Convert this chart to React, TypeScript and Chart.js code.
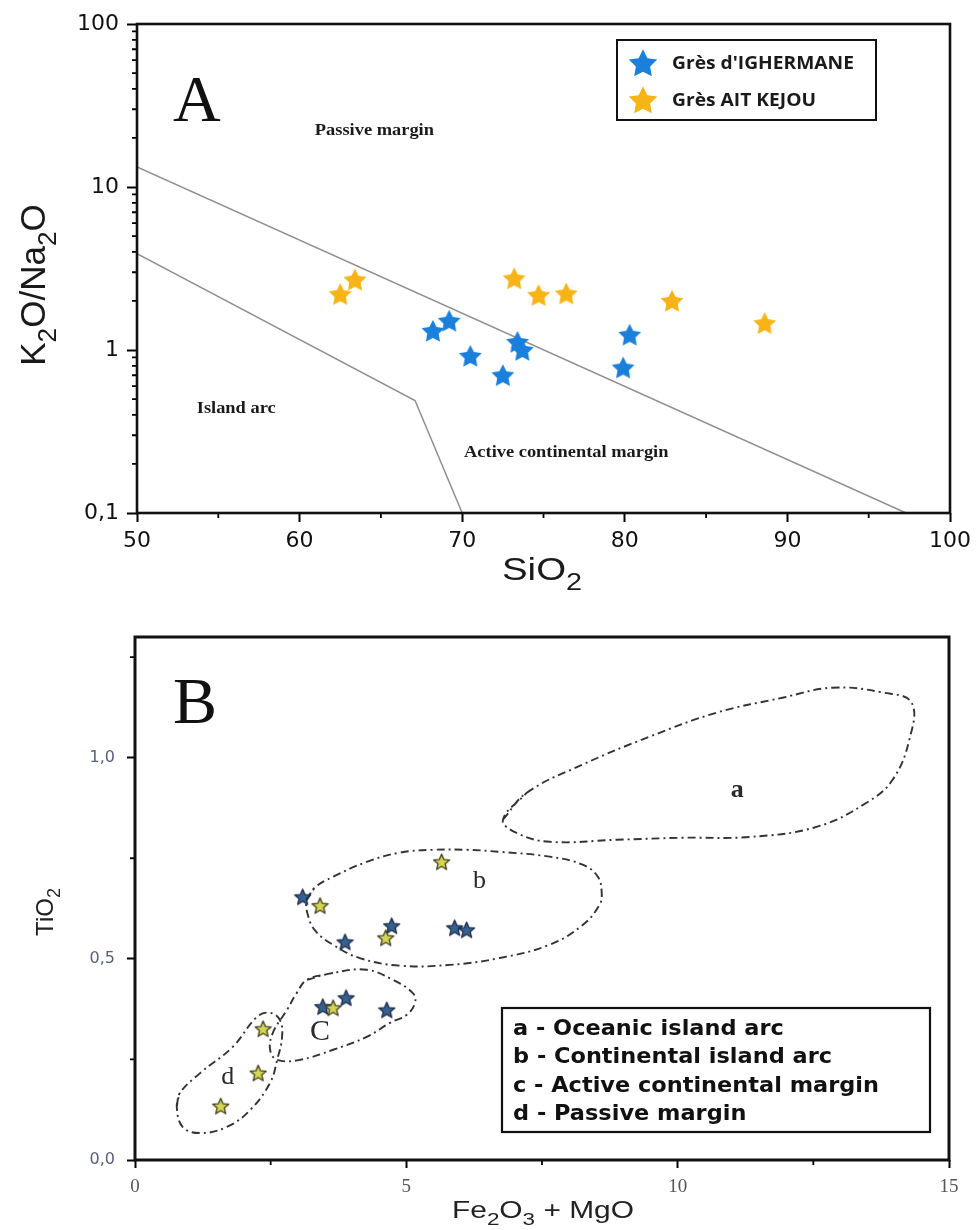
import React, { useEffect, useRef } from 'react';
import { Chart, registerables } from 'chart.js';

Chart.register(...registerables);

// ================= Panel A : K2O/Na2O vs SiO2 =================
const seriesLabels = ["Grès d'IGHERMANE", 'Grès AIT KEJOU'];

const sio2Ighermane = [68.2, 69.2, 70.5, 72.5, 73.4, 73.7, 79.9, 80.3];
const k2oNa2oIghermane = [1.31, 1.51, 0.92, 0.7, 1.12, 1.0, 0.78, 1.24];

const sio2AitKejou = [62.5, 63.4, 73.2, 74.7, 76.4, 82.9, 88.6];
const k2oNa2oAitKejou = [2.2, 2.7, 2.75, 2.17, 2.22, 2.0, 1.46];

// field boundaries
const upperBoundarySiO2 = [50, 97.3];
const upperBoundaryRatio = [13.3, 0.1];
const lowerBoundarySiO2 = [50, 67.1, 70.0];
const lowerBoundaryRatio = [3.9, 0.49, 0.1];

const xTicksA = [50, 60, 70, 80, 90, 100];
const xMinorTicksA = [55, 65, 75, 85, 95];
const yTicksA = [0.1, 1, 10, 100];
const yTickLabelsA = ['0,1', '1', '10', '100'];
const yMinorTicksA = [
  0.2, 0.3, 0.4, 0.5, 0.6, 0.7, 0.8, 0.9,
  2, 3, 4, 5, 6, 7, 8, 9,
  20, 30, 40, 50, 60, 70, 80, 90,
];

const fieldNamesA = ['Passive margin', 'Island arc', 'Active continental margin'];
const fieldAnchorSiO2A = [64.6, 56.1, 76.4];
const fieldAnchorRatioA = [22, 0.435, 0.233];

// ================= Panel B : TiO2 vs Fe2O3 + MgO =================
const feMgIghermane = [3.09, 3.87, 4.73, 5.89, 6.11, 3.46, 3.89, 4.64];
const tio2Ighermane = [0.654, 0.542, 0.582, 0.577, 0.572, 0.381, 0.403, 0.373];

const feMgAitKejou = [3.41, 4.62, 5.65, 3.65, 2.36, 2.27, 1.58];
const tio2AitKejou = [0.632, 0.552, 0.741, 0.378, 0.326, 0.216, 0.134];

// field outlines
const oceanicArcFe = [6.78, 7.22, 8.25, 9.48, 10.72, 11.93, 12.85, 13.78, 14.31, 14.27, 13.96, 13.48, 12.56, 11.33, 10.09, 8.88, 7.64, 7.03];
const oceanicArcTi = [0.846, 0.913, 0.983, 1.052, 1.112, 1.149, 1.174, 1.162, 1.137, 1.045, 0.945, 0.888, 0.828, 0.803, 0.801, 0.796, 0.791, 0.813];

const continentalArcFe = [3.17, 3.31, 3.65, 4.27, 4.88, 5.49, 6.11, 6.72, 7.64, 8.25, 8.53, 8.6, 8.56, 8.25, 7.64, 6.72, 5.8, 4.88, 4.14, 3.65, 3.31, 3.17];
const continentalArcTi = [0.647, 0.677, 0.704, 0.741, 0.764, 0.771, 0.771, 0.766, 0.754, 0.734, 0.704, 0.664, 0.634, 0.584, 0.535, 0.502, 0.485, 0.483, 0.502, 0.535, 0.572, 0.617];

const activeMarginFe = [3.17, 3.65, 4.27, 4.75, 5.12, 5.16, 5.01, 4.7, 4.27, 3.65, 3.04, 2.62, 2.49, 2.54, 2.8, 2.98];
const activeMarginTi = [0.448, 0.465, 0.473, 0.448, 0.415, 0.391, 0.361, 0.341, 0.306, 0.274, 0.249, 0.249, 0.274, 0.316, 0.373, 0.415];

const passiveMarginFe = [0.77, 0.83, 1.2, 1.8, 2.25, 2.49, 2.67, 2.71, 2.62, 2.49, 2.12, 1.69, 1.2, 0.88];
const passiveMarginTi = [0.132, 0.167, 0.216, 0.281, 0.356, 0.366, 0.348, 0.306, 0.249, 0.192, 0.124, 0.082, 0.067, 0.082];

const fieldLettersB = ['a', 'b', 'C', 'd'];
const fieldLetterFeB = [11.1, 6.35, 3.41, 1.71];
const fieldLetterTiB = [0.92, 0.692, 0.318, 0.206];

const fieldNamesB = [
  'a - Oceanic island arc',
  'b - Continental island arc',
  'c - Active continental margin',
  'd - Passive margin',
];

const xTicksB = [0, 5, 10, 15];
const xTickLabelsB = ['0', '5', '10', '15'];
const xMinorTicksB = [2.5, 7.5, 12.5];
const yTicksB = [0, 0.5, 1.0];
const yTickLabelsB = ['0,0', '0,5', '1,0'];
const yMinorTicksB = [0.25, 0.75, 1.25];

// ================= helpers =================
const zip = (xs: number[], ys: number[]) => xs.map((x, i) => ({ x, y: ys[i] }));
const closed = (xs: number[], ys: number[]) => {
  const pts = zip(xs, ys);
  return [...pts, pts[0], pts[1]];
};

function makeStar(outer: number, innerRatio: number, fill: string, stroke: string | null, lw: number) {
  const pad = Math.ceil(lw) + 1;
  const size = Math.ceil(outer * 2 + pad * 2);
  const c = document.createElement('canvas');
  c.width = size;
  c.height = size;
  const ctx = c.getContext('2d')!;
  const cx = size / 2;
  const cy = size / 2 + outer * 0.08;
  ctx.beginPath();
  for (let i = 0; i < 10; i++) {
    const r = i % 2 === 0 ? outer : outer * innerRatio;
    const a = -Math.PI / 2 + (i * Math.PI) / 5;
    const px = cx + r * Math.cos(a);
    const py = cy + r * Math.sin(a);
    if (i === 0) ctx.moveTo(px, py);
    else ctx.lineTo(px, py);
  }
  ctx.closePath();
  ctx.fillStyle = fill;
  ctx.fill();
  if (stroke) {
    ctx.lineJoin = 'round';
    ctx.lineWidth = lw;
    ctx.strokeStyle = stroke;
    ctx.stroke();
  }
  return c;
}

function drawText(
  ctx: CanvasRenderingContext2D,
  text: string,
  x: number,
  y: number,
  font: string,
  color: string,
  sx = 1,
  align: 'left' | 'center' = 'left',
  baseline: CanvasTextBaseline = 'alphabetic'
) {
  ctx.save();
  ctx.font = font;
  ctx.fillStyle = color;
  ctx.textBaseline = baseline;
  ctx.textAlign = 'left';
  const w = ctx.measureText(text).width * sx;
  const left = align === 'center' ? x - w / 2 : x;
  ctx.translate(left, y);
  ctx.scale(sx, 1);
  ctx.fillText(text, 0, 0);
  ctx.restore();
}

// text with "_X" single-character subscripts
function drawRich(
  ctx: CanvasRenderingContext2D,
  text: string,
  x: number,
  y: number,
  size: number,
  family: string,
  color: string,
  sx: number,
  align: 'left' | 'center',
  rotate: boolean
) {
  const parts: { t: string; sub: boolean }[] = [];
  let i = 0;
  while (i < text.length) {
    if (text[i] === '_' && i + 1 < text.length) {
      parts.push({ t: text[i + 1], sub: true });
      i += 2;
    } else {
      let s = '';
      while (i < text.length && text[i] !== '_') {
        s += text[i];
        i++;
      }
      parts.push({ t: s, sub: false });
    }
  }
  ctx.save();
  ctx.translate(x, y);
  if (rotate) ctx.rotate(-Math.PI / 2);
  ctx.scale(sx, 1);
  ctx.fillStyle = color;
  ctx.textBaseline = 'alphabetic';
  ctx.textAlign = 'left';
  const fontOf = (p: { sub: boolean }) => `${p.sub ? size * 0.75 : size}px ${family}`;
  let total = 0;
  const widths = parts.map((p) => {
    ctx.font = fontOf(p);
    const w = ctx.measureText(p.t).width;
    total += w;
    return w;
  });
  let cx = align === 'center' ? -total / 2 : 0;
  parts.forEach((p, k) => {
    ctx.font = fontOf(p);
    ctx.fillText(p.t, cx, p.sub ? size * 0.3 : 0);
    cx += widths[k];
  });
  ctx.restore();
}

function drawFrameAndMinor(chart: any, lw: number, minorX: number[], minorY: number[], len: number) {
  const { ctx, chartArea } = chart;
  const { left, right, top, bottom } = chartArea;
  const xs = chart.scales.x;
  const ys = chart.scales.y;
  ctx.save();
  ctx.strokeStyle = '#000';
  ctx.lineWidth = 1.8;
  ctx.beginPath();
  minorX.forEach((v) => {
    const px = xs.getPixelForValue(v);
    ctx.moveTo(px, bottom);
    ctx.lineTo(px, bottom + len);
  });
  minorY.forEach((v) => {
    const py = ys.getPixelForValue(v);
    ctx.moveTo(left, py);
    ctx.lineTo(left - len, py);
  });
  ctx.stroke();
  ctx.lineWidth = lw;
  ctx.strokeStyle = '#111';
  ctx.strokeRect(left, top, right - left, bottom - top);
  ctx.restore();
}

// ================= component =================
export default function App() {
  const refA = useRef<HTMLCanvasElement | null>(null);
  const refB = useRef<HTMLCanvasElement | null>(null);

  useEffect(() => {
    const starBlueA = makeStar(12, 0.5, '#1a80db', null, 0);
    const starOrangeA = makeStar(12, 0.5, '#f8b417', null, 0);
    const legendBlueA = makeStar(15, 0.5, '#1a80db', null, 0);
    const legendOrangeA = makeStar(15, 0.5, '#f8b417', null, 0);
    const starBlueB = makeStar(8.5, 0.45, '#36618f', '#1b2a48', 1.3);
    const starYellowB = makeStar(8.5, 0.45, '#d3d556', '#3d3d18', 1.3);

    const sans = "'Liberation Sans', Arial, sans-serif";
    const serif = "'Liberation Serif', 'Times New Roman', serif";

    // ---------- Chart A ----------
    const decorA = {
      id: 'decorA',
      afterDraw(chart: any) {
        const { ctx } = chart;
        const xs = chart.scales.x;
        const ys = chart.scales.y;
        drawFrameAndMinor(chart, 2.6, xMinorTicksA, yMinorTicksA, 5);
        fieldNamesA.forEach((name, i) => {
          drawText(
            ctx,
            name,
            xs.getPixelForValue(fieldAnchorSiO2A[i]),
            ys.getPixelForValue(fieldAnchorRatioA[i]),
            `bold 16px ${serif}`,
            '#1a1a1a',
            1.15,
            'center',
            'middle'
          );
        });
        drawText(ctx, 'A', 173, 121, `66px ${serif}`, '#111');
        // legend
        ctx.save();
        ctx.fillStyle = '#fff';
        ctx.fillRect(617, 40, 259, 80);
        ctx.lineWidth = 2;
        ctx.strokeStyle = '#111';
        ctx.strokeRect(617, 40, 259, 80);
        ctx.restore();
        const imgs = [legendBlueA, legendOrangeA];
        const ys2 = [63, 100];
        seriesLabels.forEach((lab, i) => {
          ctx.drawImage(imgs[i], 643 - imgs[i].width / 2, ys2[i] - imgs[i].height / 2);
          drawText(ctx, lab, 672, ys2[i] + 1, `bold 17px 'Open Sans', sans-serif`, '#1a1a1a', 1.13, 'left', 'middle');
        });
        drawRich(ctx, 'SiO_2', 502, 580, 32, sans, '#1a1a1a', 1.2, 'left', false);
        drawRich(ctx, 'K_2O/Na_2O', 45, 285, 35, sans, '#1a1a1a', 1, 'center', true);
      },
    };

    const chartA = new Chart(refA.current!, {
      type: 'scatter',
      data: {
        datasets: [
          {
            label: 'upper boundary',
            data: zip(upperBoundarySiO2, upperBoundaryRatio),
            showLine: true,
            borderColor: '#8f8f8f',
            borderWidth: 1.5,
            pointRadius: 0,
            order: 2,
          },
          {
            label: 'lower boundary',
            data: zip(lowerBoundarySiO2, lowerBoundaryRatio),
            showLine: true,
            borderColor: '#8f8f8f',
            borderWidth: 1.5,
            pointRadius: 0,
            order: 2,
          },
          {
            label: seriesLabels[0],
            data: zip(sio2Ighermane, k2oNa2oIghermane),
            pointStyle: starBlueA as any,
            pointRadius: 10,
            order: 1,
          },
          {
            label: seriesLabels[1],
            data: zip(sio2AitKejou, k2oNa2oAitKejou),
            pointStyle: starOrangeA as any,
            pointRadius: 10,
            order: 1,
          },
        ],
      },
      options: {
        responsive: false,
        animation: false,
        devicePixelRatio: 1,
        events: [],
        layout: { padding: { left: 0, top: 24, right: 27, bottom: 0 } },
        plugins: { legend: { display: false }, tooltip: { enabled: false } },
        scales: {
          x: {
            type: 'linear',
            min: 50,
            max: 100,
            afterBuildTicks: (s: any) => {
              s.ticks = xTicksA.map((v) => ({ value: v }));
            },
            afterFit: (s: any) => {
              s.height = 87;
            },
            border: { display: false },
            grid: { drawOnChartArea: false, drawTicks: true, tickLength: 9, tickColor: '#000', tickWidth: 2 },
            ticks: {
              padding: 6,
              autoSkip: false,
              maxRotation: 0,
              color: '#111',
              font: { family: "'DejaVu Sans', sans-serif", size: 22 },
              callback: (v: any) => String(v),
            },
          },
          y: {
            type: 'logarithmic',
            min: 0.1,
            max: 100,
            afterBuildTicks: (s: any) => {
              s.ticks = yTicksA.map((v) => ({ value: v }));
            },
            afterFit: (s: any) => {
              s.width = 137;
            },
            border: { display: false },
            grid: { drawOnChartArea: false, drawTicks: true, tickLength: 10, tickColor: '#000', tickWidth: 2 },
            ticks: {
              padding: 8,
              autoSkip: false,
              color: '#111',
              font: { family: "'DejaVu Sans', sans-serif", size: 22 },
              callback: (_v: any, i: number) => yTickLabelsA[i],
            },
          },
        },
      } as any,
      plugins: [decorA],
    });

    // ---------- Chart B ----------
    const decorB = {
      id: 'decorB',
      afterDraw(chart: any) {
        const { ctx } = chart;
        const xs = chart.scales.x;
        const ys = chart.scales.y;
        drawFrameAndMinor(chart, 3, xMinorTicksB, yMinorTicksB, 5);
        const sizes = [26, 26, 30, 26];
        const weights = ['bold ', '', '', ''];
        fieldLettersB.forEach((l, i) => {
          drawText(
            ctx,
            l,
            xs.getPixelForValue(fieldLetterFeB[i]),
            ys.getPixelForValue(fieldLetterTiB[i]),
            `${weights[i]}${sizes[i]}px ${serif}`,
            '#2a2a2a',
            1,
            'center',
            'middle'
          );
        });
        drawText(ctx, 'B', 173, 123, `66px ${serif}`, '#111');
        ctx.save();
        ctx.lineWidth = 2.2;
        ctx.strokeStyle = '#111';
        ctx.strokeRect(502, 408, 428, 124);
        ctx.restore();
        const baselines = [435, 463, 492, 520];
        fieldNamesB.forEach((t, i) => {
          drawText(ctx, t, 513, baselines[i], `bold 22px 'DejaVu Sans', sans-serif`, '#111', 1.02);
        });
        drawRich(ctx, 'Fe_2O_3 + MgO', 452, 618, 23, sans, '#222', 1.3, 'left', false);
        drawRich(ctx, 'TiO_2', 53, 312, 24, sans, '#222', 1, 'center', true);
      },
    };

    const regionStyle = {
      showLine: true,
      borderColor: '#333',
      borderWidth: 1.9,
      borderDash: [8, 4, 2, 4],
      pointRadius: 0,
      tension: 0.4,
      fill: false,
      order: 3,
    };

    const chartB = new Chart(refB.current!, {
      type: 'scatter',
      data: {
        datasets: [
          { label: 'a', data: closed(oceanicArcFe, oceanicArcTi), ...regionStyle },
          { label: 'b', data: closed(continentalArcFe, continentalArcTi), ...regionStyle },
          { label: 'c', data: closed(activeMarginFe, activeMarginTi), ...regionStyle },
          { label: 'd', data: closed(passiveMarginFe, passiveMarginTi), ...regionStyle },
          {
            label: seriesLabels[0],
            data: zip(feMgIghermane, tio2Ighermane),
            pointStyle: starBlueB as any,
            pointRadius: 8,
            order: 1,
          },
          {
            label: seriesLabels[1],
            data: zip(feMgAitKejou, tio2AitKejou),
            pointStyle: starYellowB as any,
            pointRadius: 8,
            order: 0,
          },
        ],
      },
      options: {
        responsive: false,
        animation: false,
        devicePixelRatio: 1,
        events: [],
        layout: { padding: { left: 0, top: 37, right: 28, bottom: 0 } },
        plugins: { legend: { display: false }, tooltip: { enabled: false } },
        scales: {
          x: {
            type: 'linear',
            min: 0,
            max: 15,
            afterBuildTicks: (s: any) => {
              s.ticks = xTicksB.map((v) => ({ value: v }));
            },
            afterFit: (s: any) => {
              s.height = 70;
            },
            border: { display: false },
            grid: { drawOnChartArea: false, drawTicks: true, tickLength: 8, tickColor: '#000', tickWidth: 2 },
            ticks: {
              padding: 8,
              autoSkip: false,
              maxRotation: 0,
              color: '#555',
              font: { family: serif, size: 19 },
              callback: (_v: any, i: number) => xTickLabelsB[i],
            },
          },
          y: {
            type: 'linear',
            min: 0,
            max: 1.3,
            afterBuildTicks: (s: any) => {
              s.ticks = yTicksB.map((v) => ({ value: v }));
            },
            afterFit: (s: any) => {
              s.width = 135;
            },
            border: { display: false },
            grid: { drawOnChartArea: false, drawTicks: true, tickLength: 8, tickColor: '#000', tickWidth: 2 },
            ticks: {
              padding: 12,
              autoSkip: false,
              color: '#5a607a',
              font: { family: "'DejaVu Sans', sans-serif", size: 16 },
              callback: (_v: any, i: number) => yTickLabelsB[i],
            },
          },
        },
      } as any,
      plugins: [decorB],
    });

    return () => {
      chartA.destroy();
      chartB.destroy();
    };
  }, []);

  return (
    <div
      style={{
        position: 'absolute',
        left: 0,
        top: 0,
        width: 977,
        height: 1230,
        background: '#fff',
        overflow: 'hidden',
      }}
    >
      <canvas ref={refA} width={977} height={600} style={{ display: 'block' }} />
      <canvas ref={refB} width={977} height={630} style={{ display: 'block' }} />
    </div>
  );
}
